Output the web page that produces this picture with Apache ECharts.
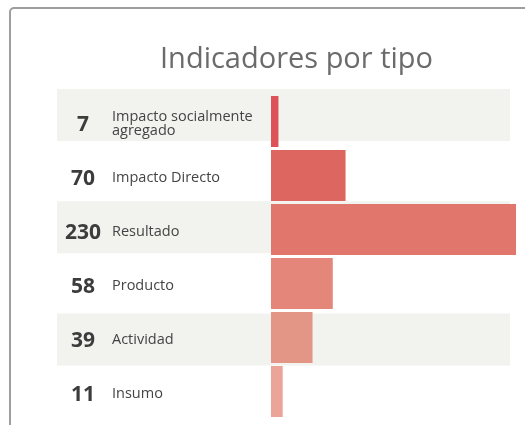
<!DOCTYPE html>
<html>
<head>
<meta charset="utf-8">
<script src="https://cdn.jsdelivr.net/npm/echarts@6/dist/echarts.min.js"></script>
<style>
  html, body { margin: 0; padding: 0; background: #fff; }
  /* marco de la tarjeta */
  .card {
    position: absolute; left: 9px; top: 7px;
    width: 600px; height: 500px;
    border: 2px solid #9e9e9e; border-radius: 5px;
    box-sizing: border-box;
  }
  #chart { position: absolute; left: 0; top: 0; width: 525px; height: 425px; }
</style>
</head>
<body>
<div class="card"></div>
<div id="chart"></div>
<script>
// datos
const tipos = ["Impacto socialmente agregado", "Impacto Directo", "Resultado", "Producto", "Actividad", "Insumo"];
const valores = [7, 70, 230, 58, 39, 11];
const franjas = [1, 0, 1, 0, 1, 0]; // filas con fondo gris

const colores = ["#db5257", "#de6661", "#e0766c", "#e5867a", "#e49686", "#eaa598"];

const chart = echarts.init(document.getElementById("chart"));
const sinBordes = { outerBoundsMode: "none", containLabel: false };
chart.setOption({
  animation: false,
  title: {
    text: "Indicadores por tipo",
    left: 155,
    top: 40,
    textStyle: {
      fontFamily: "Open Sans",
      fontSize: 29,
      fontWeight: "normal",
      color: "#6b6b6b",
    },
  },
  grid: [
    // barras
    { left: 271, right: 9, top: 94.5, height: 324, ...sinBordes },
    // franjas de fondo
    { left: 57, right: 15, top: 87, height: 336.6, ...sinBordes },
    // columna de números (un poco más abajo)
    { left: 271, right: 9, top: 98.5, height: 324, ...sinBordes },
    // columna de nombres
    { left: 271, right: 9, top: 97, height: 324, ...sinBordes },
  ],
  xAxis: [
    { gridIndex: 0, type: "value", min: 0, max: 230, show: false },
    { gridIndex: 1, type: "value", min: 0, max: 1, show: false },
    { gridIndex: 2, type: "value", min: 0, max: 1, show: false },
    { gridIndex: 3, type: "value", min: 0, max: 1, show: false },
  ],
  yAxis: [
    {
      gridIndex: 0,
      type: "category",
      inverse: true,
      data: tipos,
      show: false,
    },
    {
      gridIndex: 1,
      type: "category",
      inverse: true,
      data: tipos,
      show: false,
    },
    {
      // números
      gridIndex: 2,
      type: "category",
      inverse: true,
      data: tipos,
      z: 5,
      axisLine: { show: false },
      axisTick: { show: false },
      axisLabel: {
        interval: 0,
        align: "center",
        margin: 188,
        fontFamily: "Open Sans",
        fontSize: 21,
        fontWeight: "bold",
        color: "#3c3c3c",
        formatter: (v, i) => String(valores[i]),
      },
    },
    {
      // nombres
      gridIndex: 3,
      type: "category",
      inverse: true,
      data: tipos,
      z: 5,
      axisLine: { show: false },
      axisTick: { show: false },
      axisLabel: {
        interval: 0,
        align: "left",
        margin: 159,
        width: 150,
        overflow: "break",
        lineHeight: 14,
        fontFamily: "Open Sans",
        fontSize: 14.5,
        color: "#444",
      },
    },
  ],
  series: [
    {
      type: "bar",
      xAxisIndex: 1,
      yAxisIndex: 1,
      barWidth: 52,
      silent: true,
      itemStyle: { color: "#f2f3ef" },
      data: franjas,
      z: 1,
    },
    {
      type: "bar",
      xAxisIndex: 0,
      yAxisIndex: 0,
      barCategoryGap: "5.5%",
      data: valores.map((v, i) => ({ value: v, itemStyle: { color: colores[i] } })),
      z: 2,
    },
  ],
});
</script>
</body>
</html>
